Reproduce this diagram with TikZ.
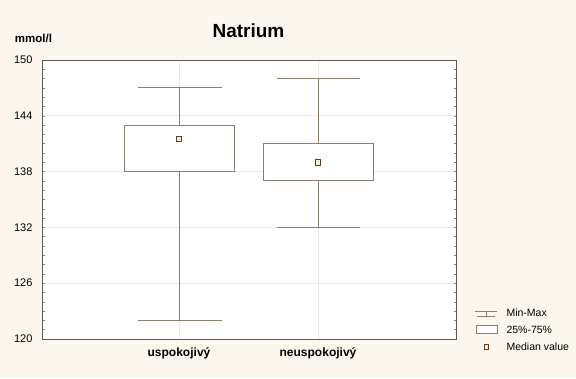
\documentclass[tikz,border=0pt]{standalone}
\usepackage{fontspec}
\setmainfont{Liberation Sans}
\usepackage{xcolor}
\definecolor{paper}{HTML}{FBF7EE}
\definecolor{boxline}{HTML}{8C7E70}
\definecolor{medline}{HTML}{5E3F24}
\definecolor{medfill}{HTML}{F6EBDA}
\definecolor{gridc}{HTML}{ECE8E2}
\definecolor{axisc}{HTML}{5C5955}

\begin{document}
\begin{tikzpicture}[x=1pt,y=1pt]
\tikzset{
    frame/.style={%
        draw=axisc, line width=0.9pt
        },
    gridline/.style={%
        draw=gridc, line width=0.6pt
        },
    whisk/.style={%
        draw=boxline, line width=0.8pt
        },
    iqr/.style={%
        draw=boxline, line width=0.8pt, fill=white
        },
    med/.style={%
        draw=medline, line width=0.9pt, fill=medfill,
        rectangle, inner sep=0pt, minimum size=5.5pt
        },
    ticklab/.style={anchor=east, font=\fontsize{11}{13}\selectfont},
    catlab/.style={font=\bfseries\fontsize{12}{14}\selectfont},
    leglab/.style={anchor=west, font=\fontsize{10.5}{12}\selectfont},
}
%%%BACKGROUND
\fill[paper] (0,0) rectangle (576,378);
\useasboundingbox (0,0) rectangle (576,378);
\node[font=\bfseries\fontsize{19}{22}\selectfont] (title) at (248.5,347) {Natrium};
\node[font=\bfseries\fontsize{11.5}{13}\selectfont] (unit) at (33.5,340) {mmol/l};
\begin{scope}[y=9.3pt, yshift=-1077pt]
%%%PLOT AREA
\fill[white] (42,120) rectangle (456,150);
\foreach \v in {126,132,138,144}
    \draw[gridline] (42,\v) -- (456,\v);
\draw[gridline] (179,120) -- (179,150);
\draw[gridline] (318,120) -- (318,150);
\foreach \v in {121,...,149} {
    \draw[draw=axisc!70, line width=0.5pt] (42,\v) -- ++(2.5pt,0);
    \draw[draw=axisc!70, line width=0.5pt] (456,\v) -- ++(-2.5pt,0);
}
\draw[frame] (42,120) rectangle (456,150);
\foreach \v in {120,126,...,150}
    \node[ticklab] (t\v) at (36,\v) {\v};
%%%BOXES
% uspokojivy
\draw[whisk] (179,122) -- (179,147);
\draw[whisk] (137.5,147) -- (221.5,147);
\draw[whisk] (137.5,122) -- (221.5,122);
\draw[iqr] (124,138) rectangle (234,143);
\node[med] (m1) at (179,141.5) {};
% neuspokojivy
\draw[whisk] (318,132) -- (318,148);
\draw[whisk] (276.5,148) -- (360,148);
\draw[whisk] (276.5,132) -- (360,132);
\draw[iqr] (263,137) rectangle (373,141);
\node[med] (m2) at (318,139) {};
\end{scope}
\node[catlab] (c1) at (179,25) {uspokojivý};
\node[catlab] (c2) at (318,25) {neuspokojivý};
%%%LEGEND
\draw[whisk] (475,67) -- (497,67);
\draw[whisk] (486,67) -- (486,61.5);
\draw[whisk] (477,61.5) -- (495,61.5);
\node[leglab] (l1) at (503,65) {Min-Max};
\draw[iqr] (476,45) rectangle (497,53);
\node[leglab] (l2) at (503,48.5) {25\%-75\%};
\node[med, minimum size=4.5pt] (l3m) at (486.5,31) {};
\node[leglab] (l3) at (503,31) {Median value};
\end{tikzpicture}
\end{document}
